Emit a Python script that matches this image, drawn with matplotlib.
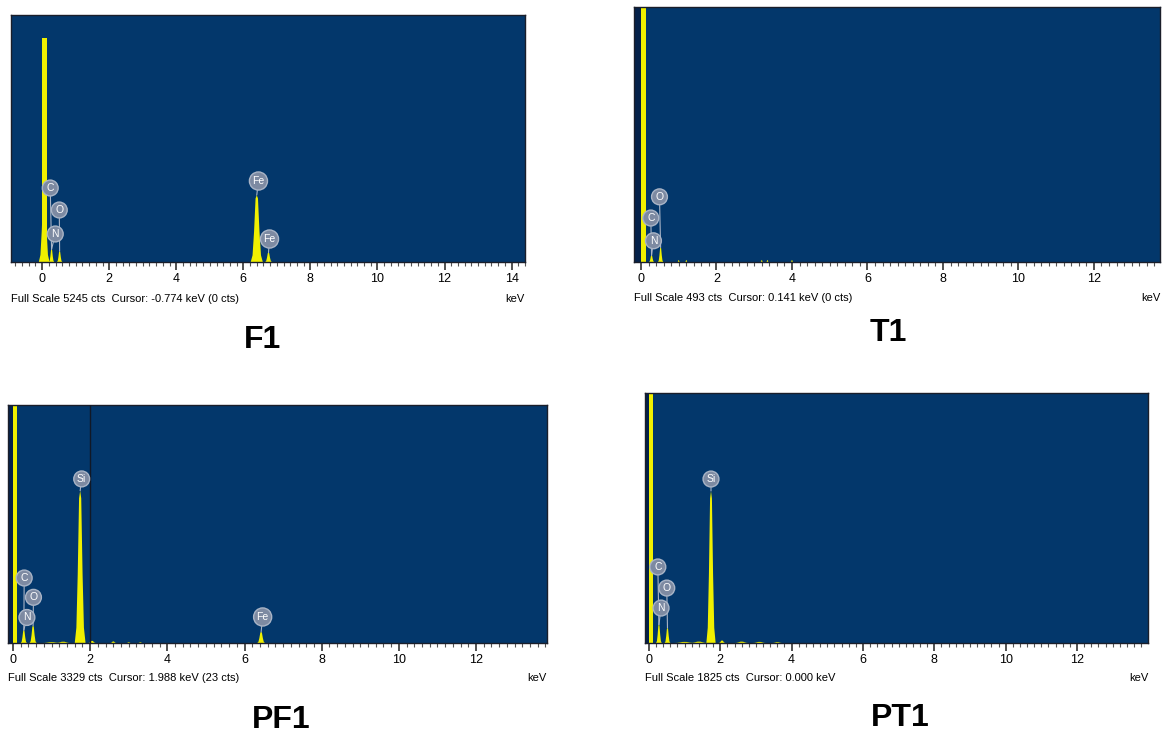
import matplotlib
matplotlib.use("Agg")
import matplotlib.pyplot as plt
from matplotlib.ticker import MultipleLocator

plt.rcParams['font.family'] = ['Liberation Sans', 'DejaVu Sans']

# ---- data ----
# F1
f1_full_scale = 5245
f1_zero_kev, f1_zero_cts, f1_zero_w = 0.07, 4757, 0.14
f1_peak_kev = [0.06, 0.28, 0.52, 6.40, 6.75]
f1_peak_cts = [1500, 270, 230, 1420, 200]
f1_peak_hw = [0.16, 0.08, 0.08, 0.18, 0.1]
f1_tag_names = ['C', 'O', 'N', 'Fe', 'Fe']
f1_tag_kev = [0.24, 0.51, 0.39, 6.45, 6.78]
f1_tag_cts = [1571, 1104, 595, 1720, 488]
f1_caption = 'Full Scale 5245 cts  Cursor: -0.774 keV (0 cts)'

# T1
t1_full_scale = 493
t1_zero_kev, t1_zero_cts, t1_zero_w = 0.07, 900, 0.13
t1_peak_kev = [0.28, 0.52, 1.0, 1.2, 3.2, 3.35, 4.0]
t1_peak_cts = [13, 28, 4, 4, 4, 4, 4]
t1_peak_hw = [0.07, 0.07, 0.03, 0.03, 0.03, 0.03, 0.03]
t1_tag_names = ['O', 'C', 'N']
t1_tag_kev = [0.49, 0.26, 0.33]
t1_tag_cts = [126, 85, 41]
t1_caption = 'Full Scale 493 cts  Cursor: 0.141 keV (0 cts)'

# PF1
pf1_full_scale = 3329
pf1_zero_kev, pf1_zero_cts, pf1_zero_w = 0.05, 6000, 0.12
pf1_peak_kev = [0.28, 0.52, 1.0, 1.3, 1.74, 2.05, 2.6, 3.0, 3.3, 6.43]
pf1_peak_cts = [180, 240, 12, 18, 2130, 30, 22, 10, 10, 154]
pf1_peak_hw = [0.08, 0.09, 0.25, 0.2, 0.14, 0.1, 0.08, 0.06, 0.06, 0.1]
pf1_tag_names = ['C', 'O', 'N', 'Si', 'Fe']
pf1_tag_kev = [0.29, 0.53, 0.36, 1.78, 6.47]
pf1_tag_cts = [909, 639, 357, 2295, 364]
pf1_cursor_kev = 1.988
pf1_caption = 'Full Scale 3329 cts  Cursor: 1.988 keV (23 cts)'

# PT1
pt1_full_scale = 1825
pt1_zero_kev, pt1_zero_cts, pt1_zero_w = 0.05, 3000, 0.12
pt1_peak_kev = [0.28, 0.52, 1.0, 1.4, 1.74, 2.05, 2.6, 3.1, 3.6]
pt1_peak_cts = [134, 110, 8, 10, 1110, 18, 10, 8, 6]
pt1_peak_hw = [0.08, 0.08, 0.3, 0.25, 0.13, 0.1, 0.2, 0.2, 0.15]
pt1_tag_names = ['C', 'O', 'N', 'Si']
pt1_tag_kev = [0.25, 0.50, 0.34, 1.74]
pt1_tag_cts = [555, 401, 255, 1197]
pt1_caption = 'Full Scale 1825 cts  Cursor: 0.000 keV'

W, H = 1164, 735
navy = '#03376B'
yellow = '#F0F000'
# peak outline used for every line (half-width units / fraction of height)
shape_x = [-1, -0.7, -0.45, -0.2, 0, 0.2, 0.45, 0.7, 1]
shape_y = [0, 0.1, 0.45, 0.95, 1, 0.95, 0.45, 0.1, 0]

fig = plt.figure(figsize=(W / 100, H / 100), dpi=100)


def panel(box, xlim, full, zero, kev, cts, hw, tags, tag_kev, tag_cts, caption,
          title, text_y, title_xy, dark_left=False, cursor=None):
    l, r, t, b = box
    ax = fig.add_axes([l / W, 1 - b / H, (r - l) / W, (b - t) / H])
    ax.set_facecolor(navy)
    ax.set_xlim(*xlim)
    ax.set_ylim(0, full)
    if dark_left:
        ax.axvspan(xlim[0], 0, color='#04214A', lw=0)
    ax.bar(zero[0], zero[1], width=zero[2], color=yellow, lw=0, zorder=2)
    for c, h, w in zip(kev, cts, hw):
        ax.fill([c + w * sx for sx in shape_x], [h * sy for sy in shape_y],
                color=yellow, lw=0, zorder=2)
    if cursor is not None:
        ax.axvline(cursor, color='#111826', lw=1, zorder=3)
    all_kev = [zero[0]] + kev
    all_cts = [zero[1]] + cts
    for name, x, y in zip(tags, tag_kev, tag_cts):
        near = min(range(1, len(all_kev)), key=lambda i: abs(all_kev[i] - x))
        ax.annotate(name, xy=(all_kev[near], all_cts[near]), xytext=(x, y),
                    ha='center', va='center', color='white', fontsize=7.5,
                    bbox=dict(boxstyle='circle,pad=0.28', fc='#7D8AA2', ec='#A9B4C6', lw=1),
                    arrowprops=dict(arrowstyle='-', color='#A9B4C6', lw=0.8,
                                    shrinkA=0, shrinkB=0), zorder=4)
    ax.set_yticks([])
    ax.xaxis.set_major_locator(MultipleLocator(2))
    ax.xaxis.set_minor_locator(MultipleLocator(0.2))
    ax.tick_params(axis='x', which='major', length=6, width=1.2, color='#333333',
                   labelsize=9, pad=2)
    ax.tick_params(axis='x', which='minor', length=3, width=0.8, color='#555555')
    for s in ax.spines.values():
        s.set_color('#1A1E2A')
        s.set_linewidth(1)
    fig.text(l / W, 1 - text_y / H, caption, fontsize=8, va='center', ha='left')
    fig.text(r / W, 1 - text_y / H, 'keV', fontsize=8, va='center', ha='right')
    fig.text(title_xy[0] / W, 1 - title_xy[1] / H, title, fontsize=23,
             fontweight='bold', ha='center', va='center')
    return ax


panel((11, 525, 15, 262), (-0.93, 14.4), f1_full_scale,
      (f1_zero_kev, f1_zero_cts, f1_zero_w), f1_peak_kev, f1_peak_cts, f1_peak_hw,
      f1_tag_names, f1_tag_kev, f1_tag_cts, f1_caption, 'F1', 299, (262, 340))
panel((634, 1160, 7, 262), (-0.185, 13.75), t1_full_scale,
      (t1_zero_kev, t1_zero_cts, t1_zero_w), t1_peak_kev, t1_peak_cts, t1_peak_hw,
      t1_tag_names, t1_tag_kev, t1_tag_cts, t1_caption, 'T1', 298, (888, 333),
      dark_left=True)
panel((8, 547, 405, 643), (-0.13, 13.84), pf1_full_scale,
      (pf1_zero_kev, pf1_zero_cts, pf1_zero_w), pf1_peak_kev, pf1_peak_cts, pf1_peak_hw,
      pf1_tag_names, pf1_tag_kev, pf1_tag_cts, pf1_caption, 'PF1', 678, (281, 720),
      dark_left=True, cursor=pf1_cursor_kev)
panel((645, 1148, 393, 643), (-0.11, 13.99), pt1_full_scale,
      (pt1_zero_kev, pt1_zero_cts, pt1_zero_w), pt1_peak_kev, pt1_peak_cts, pt1_peak_hw,
      pt1_tag_names, pt1_tag_kev, pt1_tag_cts, pt1_caption, 'PT1', 678, (900, 718),
      dark_left=True)

fig.savefig('out.png', dpi=100, facecolor='white')
